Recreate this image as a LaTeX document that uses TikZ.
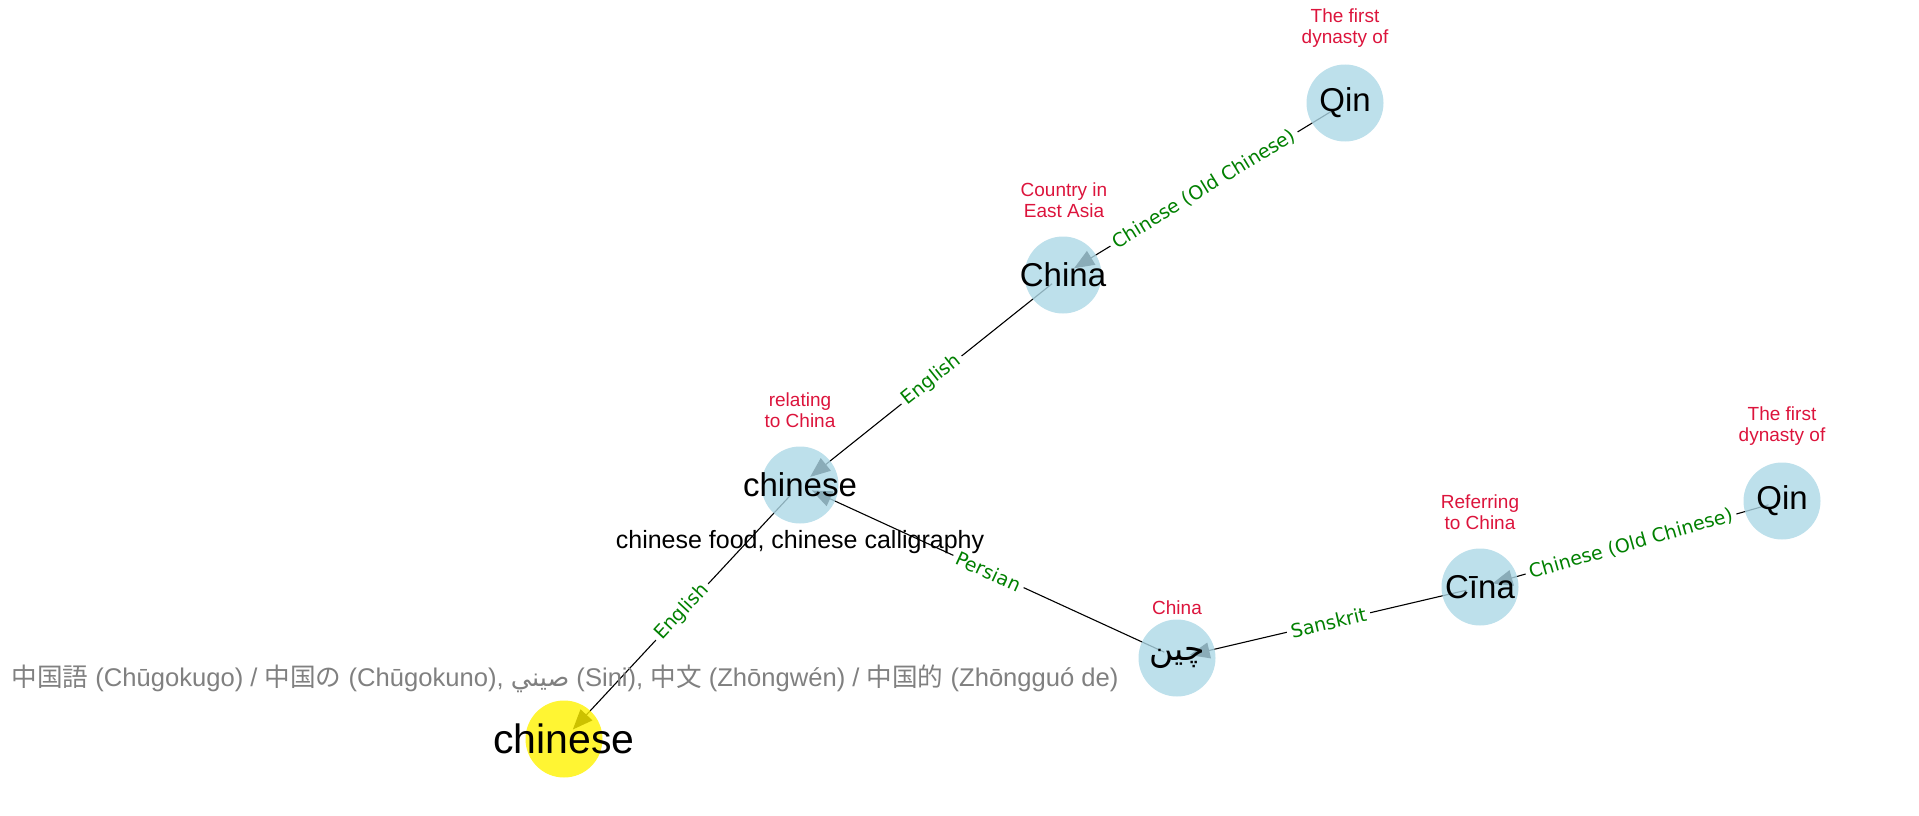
\documentclass[tikz,border=0pt]{standalone}
\usepackage{fontspec}
\setmainfont{Liberation Sans}
\newfontfamily\edgefont{DejaVu Sans}
\newfontfamily\cjkfont{Noto Sans CJK JP}
\newfontfamily\arabicfont[Script=Arabic]{DejaVu Sans}
\TeXXeTstate=1
\usetikzlibrary{arrows.meta}
\definecolor{nodeblue}{RGB}{173,216,230}
\definecolor{labred}{RGB}{220,20,60}
\definecolor{edgegreen}{RGB}{0,128,0}
\definecolor{graytext}{RGB}{128,128,128}
\begin{document}
\begin{tikzpicture}[x=1pt,y=-1pt,
  vertex/.style={circle, minimum size=77pt, inner sep=0pt, fill=nodeblue, fill opacity=0.8, draw=none},
  rootvertex/.style={vertex, fill=yellow},
  vlabel/.style={font=\fontsize{33}{39}\selectfont, text=black, inner sep=0pt},
  rootlabel/.style={font=\fontsize{41}{49}\selectfont, text=black, inner sep=0pt},
  desc/.style={font=\fontsize{19}{21}\selectfont, text=labred, align=center, inner sep=0pt},
  link/.style={draw=black, line width=1.1pt, -{Triangle[length=20pt,width=16pt]}, shorten <=14pt, shorten >=13pt},
  elabel/.style={font=\edgefont\fontsize{19}{23}\selectfont, text=edgegreen, fill=white, sloped, inner sep=4pt, midway},
  note/.style={font=\fontsize{25}{30}\selectfont, inner sep=0pt},
]
\useasboundingbox (0,0) rectangle (1919,816);
% centres
\coordinate (p-root) at (564,739);
\coordinate (p-mid) at (800,485);
\coordinate (p-china) at (1063,275);
\coordinate (p-qina) at (1345,103);
\coordinate (p-chin) at (1177,658);
\coordinate (p-cina) at (1480,587);
\coordinate (p-qinb) at (1782,501);
% edges
\draw[link] (p-mid) -- node[elabel] (e1) {English} (p-root);
\draw[link] (p-china) -- node[elabel] (e2) {English} (p-mid);
\draw[link] (p-chin) -- node[elabel] (e3) {Persian} (p-mid);
\draw[link] (p-qina) -- node[elabel] (e4) {Chinese (Old Chinese)} (p-china);
\draw[link] (p-cina) -- node[elabel] (e5) {Sanskrit} (p-chin);
\draw[link] (p-qinb) -- node[elabel] (e6) {Chinese (Old Chinese)} (p-cina);
% circles
\node[rootvertex] (n-root) at (p-root) {};
\node[vertex] (n-mid) at (p-mid) {};
\node[vertex] (n-china) at (p-china) {};
\node[vertex] (n-qina) at (p-qina) {};
\node[vertex] (n-chin) at (p-chin) {};
\node[vertex] (n-cina) at (p-cina) {};
\node[vertex] (n-qinb) at (p-qinb) {};
% node texts
\node[rootlabel] (t-root) at (p-root) {chinese};
\node[vlabel] (t-mid) at (p-mid) {chinese};
\node[vlabel] (t-china) at (p-china) {China};
\node[vlabel] (t-qina) at (p-qina) {Qin};
\node[vlabel] (t-chin) at (p-chin) {\arabicfont\beginR چین\endR};
\node[vlabel] (t-cina) at (p-cina) {Cīna};
\node[vlabel] (t-qinb) at (p-qinb) {Qin};
% descriptions
\node[desc] (d-qina) at (1345,28) {The first\\dynasty of};
\node[desc] (d-china) at (1064,200) {Country in\\East Asia};
\node[desc] (d-mid) at (800,410) {relating\\to China};
\node[desc] (d-chin) at (1177,608) {China};
\node[desc] (d-cina) at (1480,512) {Referring\\to China};
\node[desc] (d-qinb) at (1782,426) {The first\\dynasty of};
% notes
\node[note, text=black] (x-mid) at (800,542) {chinese food, chinese calligraphy};
\node[note, text=graytext, font=\fontsize{25.6}{30}\selectfont] (x-root) at (565,679) {{\cjkfont 中国語} (Chūgokugo) / {\cjkfont 中国の} (Chūgokuno), {\arabicfont\beginR صيني\endR} (Sini), {\cjkfont 中文} (Zhōngwén) / {\cjkfont 中国的} (Zhōngguó de)};
\end{tikzpicture}
\end{document}
